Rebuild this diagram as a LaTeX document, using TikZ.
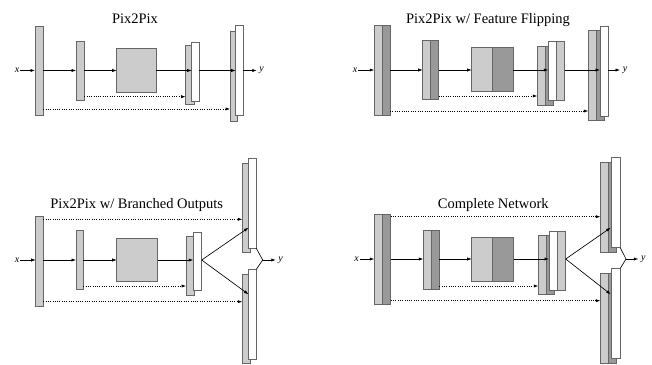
\documentclass[tikz,border=0pt]{standalone}
\usepackage{fontspec}
\setmainfont{Liberation Serif}
\usetikzlibrary{arrows.meta}
\tikzset{
 boxst/.style={draw=black!60, line width=0.8pt, inner sep=0pt, outer sep=0pt},
 lt/.style={fill=black!20},
 dk/.style={fill=black!40},
 wt/.style={fill=white},
 conn/.style={line width=0.65pt, -{Latex[length=4.5pt,width=3.2pt]}},
 outc/.style={conn, shorten >=2pt},
 skip/.style={conn, dash pattern=on 0.9pt off 1.4pt},
 chev/.style={line width=0.65pt},
 ttl/.style={font=\fontsize{14.5}{17}\selectfont, anchor=base, inner sep=0pt},
 lbl/.style={font=\fontsize{10}{12}\selectfont\itshape, inner sep=0.5pt}
}
\newcommand\mkbox[6]{\node[boxst,#6,minimum width={(#4-#2)*1pt},minimum height={(#5-#3)*1pt}] (#1) at ({(#2+#4)/2},{(#3+#5)/2}) {};}
\begin{document}
\begin{tikzpicture}[x=1pt,y=-1pt]
\useasboundingbox (0,0) rectangle (652,364);
% ---------- Panel A: Pix2Pix ----------
\node[ttl] (tA) at (135,23.5) {Pix2Pix};
\mkbox{a1}{35}{26}{43.3}{115.7}{lt}
\mkbox{a2}{76}{41.3}{84.3}{100}{lt}
\mkbox{a3}{116.7}{48.3}{156}{92.3}{lt}
\mkbox{a4g}{185.7}{45}{194}{104}{lt}
\mkbox{a4w}{191.7}{42.7}{199.3}{101.7}{wt}
\mkbox{a5g}{230}{31.7}{237.3}{121.7}{lt}
\mkbox{a5w}{235.7}{25.3}{243.3}{115.7}{wt}
\node[lbl] (xa) at (17,70.5) {x};
\node[lbl] (ya) at (261.7,70.5) {y};
\draw[conn] (xa.east) -- (a1.west |- xa);
\draw[conn] (a1.east |- xa) -- (a2.west |- xa);
\draw[conn] (a2.east |- xa) -- (a3.west |- xa);
\draw[conn] (a3.east |- xa) -- (a4w.west |- xa);
\draw[conn] (a4w.east |- xa) -- (a5w.west |- xa);
\draw[outc] (a5w.east |- xa) -- (ya.west);
\draw[skip] (a2.east |- 0,96.7) -- (a4g.west |- 0,96.7);
\draw[skip] (a1.east |- 0,109) -- (a5g.west |- 0,109);
% ---------- Panel B: Feature Flipping ----------
\node[ttl] (tB) at (488,23.5) {Pix2Pix w/ Feature Flipping};
\mkbox{b1l}{374.3}{25}{382.3}{115}{lt}
\mkbox{b1d}{382.3}{25}{390}{115}{dk}
\mkbox{b2l}{422.7}{40.7}{430.7}{99.3}{lt}
\mkbox{b2d}{430.7}{40.7}{438.7}{99.3}{dk}
\mkbox{b3l}{471.7}{47.3}{492.3}{91.7}{lt}
\mkbox{b3d}{492.3}{47.3}{513.3}{91.7}{dk}
\mkbox{b4l}{537.3}{46}{545.3}{105}{lt}
\mkbox{b4d}{545.3}{46}{553.3}{105}{dk}
\mkbox{b4w}{548.3}{41.3}{556.7}{100.3}{wt}
\mkbox{b4f}{556.7}{41.3}{564.7}{100.3}{lt}
\mkbox{b5l}{588.3}{30.7}{596.3}{120.7}{lt}
\mkbox{b5d}{596.3}{30.7}{604.3}{120.7}{dk}
\mkbox{b5w}{600}{26}{608.3}{116.3}{wt}
\node[lbl] (xb) at (355,70) {x};
\node[lbl] (yb) at (625,70) {y};
\draw[conn] (xb.east) -- (b1l.west |- xb);
\draw[conn] (b1d.east |- xb) -- (b2l.west |- xb);
\draw[conn] (b2d.east |- xb) -- (b3l.west |- xb);
\draw[conn] (b3d.east |- xb) -- (b4w.west |- xb);
\draw[conn] (b4f.east |- xb) -- (b5w.west |- xb);
\draw[outc] (b5w.east |- xb) -- (yb.west);
\draw[skip] (b2d.east |- 0,96) -- (b4l.west |- 0,96);
\draw[skip] (b1d.east |- 0,111) -- (b5l.west |- 0,111);
% ---------- Panel C: Branched Outputs ----------
\node[ttl] (tC) at (136.7,208) {Pix2Pix w/ Branched Outputs};
\mkbox{c1}{35.7}{216.7}{43.3}{306}{lt}
\mkbox{c2}{76}{230.7}{83.3}{289}{lt}
\mkbox{c3}{116.7}{238.3}{157.7}{281.7}{lt}
\mkbox{c4g}{186}{236.7}{194}{295}{lt}
\mkbox{c4w}{193.3}{232.7}{201.7}{290.7}{wt}
\mkbox{c5g}{242.3}{163.3}{250}{252.7}{lt}
\mkbox{c5w}{248.5}{158.3}{256.3}{248.3}{wt}
\mkbox{c6g}{242.3}{274.3}{250}{363.3}{lt}
\mkbox{c6w}{248.5}{269.3}{256.3}{359.3}{wt}
\node[lbl] (xc) at (17,260) {x};
\node[lbl] (yc) at (280.7,260) {y};
\coordinate (cm) at (262.7,260);
\coordinate (cu) at (248.5,227.7);
\coordinate (cl) at (248.5,294.3);
\draw[conn] (xc.east) -- (c1.west |- xc);
\draw[conn] (c1.east |- xc) -- (c2.west |- xc);
\draw[conn] (c2.east |- xc) -- (c3.west |- xc);
\draw[conn] (c3.east |- xc) -- (c4w.west |- xc);
\draw[conn] (c4w.east |- xc) -- (cu);
\draw[conn] (c4w.east |- xc) -- (cl);
\draw[chev] (c5w.south east) -- (cm) -- (c6w.north east);
\draw[outc] (cm) -- (yc.west);
\draw[skip] (c1.east |- 0,219.3) -- (c5g.west |- 0,219.3);
\draw[skip] (c1.east |- 0,301.7) -- (c6g.west |- 0,301.7);
\draw[skip] (c2.east |- 0,286) -- (c4g.west |- 0,286);
% ---------- Panel D: Complete Network ----------
\node[ttl] (tD) at (493.3,208) {Complete Network};
\mkbox{d1l}{374.3}{214.3}{382.3}{304.3}{lt}
\mkbox{d1d}{382.3}{214.3}{390.7}{304.3}{dk}
\mkbox{d2l}{423.3}{230}{431.7}{289}{lt}
\mkbox{d2d}{431.7}{230}{439.3}{289}{dk}
\mkbox{d3l}{471.7}{237.3}{492.3}{281}{lt}
\mkbox{d3d}{492.3}{237.3}{513.7}{281}{dk}
\mkbox{d4l}{538.3}{235}{546.7}{294.3}{lt}
\mkbox{d4d}{546.7}{235}{554.3}{294.3}{dk}
\mkbox{d4w}{549}{231.7}{557.3}{290}{wt}
\mkbox{d4f}{557.3}{231.7}{565.7}{290}{lt}
\mkbox{d5l}{600.3}{162.3}{608.5}{252.3}{lt}
\mkbox{d5d}{608.5}{162.3}{616.5}{252.3}{dk}
\mkbox{d5w}{611.7}{157.7}{620.3}{247.7}{wt}
\mkbox{d6l}{600.3}{273.3}{608.5}{363.3}{lt}
\mkbox{d6d}{608.5}{273.3}{616.5}{363.3}{dk}
\mkbox{d6w}{611.7}{268.3}{620.3}{358.3}{wt}
\node[lbl] (xd) at (356.7,259) {x};
\node[lbl] (yd) at (643.3,259) {y};
\coordinate (dm) at (626,259);
\coordinate (du) at (610.7,227.7);
\coordinate (dl) at (610.7,294.3);
\draw[conn] (xd.east) -- (d1l.west |- xd);
\draw[conn] (d1d.east |- xd) -- (d2l.west |- xd);
\draw[conn] (d2d.east |- xd) -- (d3l.west |- xd);
\draw[conn] (d3d.east |- xd) -- (d4w.west |- xd);
\draw[conn] (d4f.east |- xd) -- (du);
\draw[conn] (d4f.east |- xd) -- (dl);
\draw[chev] (d5w.south east) -- (dm) -- (d6w.north east);
\draw[outc] (dm) -- (yd.west);
\draw[skip] (d1d.east |- 0,216.7) -- (d5l.west |- 0,216.7);
\draw[skip] (d1d.east |- 0,300.7) -- (d6l.west |- 0,300.7);
\draw[skip] (d2d.east |- 0,286) -- (d4l.west |- 0,286);
\end{tikzpicture}
\end{document}
